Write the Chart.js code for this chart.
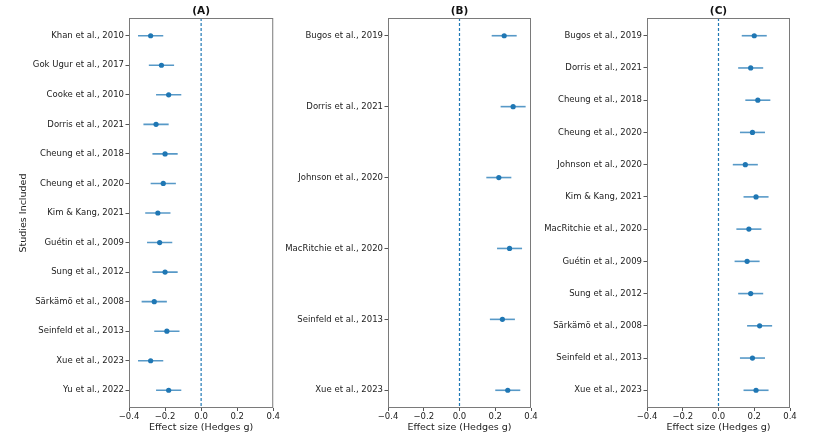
<!DOCTYPE html>
<html lang="en">
<head>
<meta charset="UTF-8">
<title>forest plots</title>
<script src="https://cdn.jsdelivr.net/npm/chart.js@4.4.1/dist/chart.umd.min.js"></script>
<style>
    body { margin: 0; background: #fff; }
    .panel { position: absolute; top: 0; height: 446px; }
</style>
</head>
<body>
<div class="panel" style="left:0;width:281px"><canvas id="chartA"></canvas></div>
<div class="panel" style="left:278px;width:262px"><canvas id="chartB"></canvas></div>
<div class="panel" style="left:540px;width:276px"><canvas id="chartC"></canvas></div>

<script>
// panel A
const studiesA = ['Khan et al., 2010', 'Gok Ugur et al., 2017', 'Cooke et al., 2010', 'Dorris et al., 2021',
    'Cheung et al., 2018', 'Cheung et al., 2020', 'Kim & Kang, 2021', 'Guétin et al., 2009', 'Sung et al., 2012',
    'Särkämö et al., 2008', 'Seinfeld et al., 2013', 'Xue et al., 2023', 'Yu et al., 2022'];
const effectA = [-0.28, -0.22, -0.18, -0.25, -0.20, -0.21, -0.24, -0.23, -0.20, -0.26, -0.19, -0.28, -0.18];
const lowA    = [-0.35, -0.29, -0.25, -0.32, -0.27, -0.28, -0.31, -0.30, -0.27, -0.33, -0.26, -0.35, -0.25];
const highA   = [-0.21, -0.15, -0.11, -0.18, -0.13, -0.14, -0.17, -0.16, -0.13, -0.19, -0.12, -0.21, -0.11];

// panel B
const studiesB = ['Bugos et al., 2019', 'Dorris et al., 2021', 'Johnson et al., 2020',
    'MacRitchie et al., 2020', 'Seinfeld et al., 2013', 'Xue et al., 2023'];
const effectB = [0.25, 0.30, 0.22, 0.28, 0.24, 0.27];
const lowB    = [0.18, 0.23, 0.15, 0.21, 0.17, 0.20];
const highB   = [0.32, 0.37, 0.29, 0.35, 0.31, 0.34];

// panel C
const studiesC = ['Bugos et al., 2019', 'Dorris et al., 2021', 'Cheung et al., 2018', 'Cheung et al., 2020',
    'Johnson et al., 2020', 'Kim & Kang, 2021', 'MacRitchie et al., 2020', 'Guétin et al., 2009',
    'Sung et al., 2012', 'Särkämö et al., 2008', 'Seinfeld et al., 2013', 'Xue et al., 2023'];
const effectC = [0.20, 0.18, 0.22, 0.19, 0.15, 0.21, 0.17, 0.16, 0.18, 0.23, 0.19, 0.21];
const lowC    = [0.13, 0.11, 0.15, 0.12, 0.08, 0.14, 0.10, 0.09, 0.11, 0.16, 0.12, 0.14];
const highC   = [0.27, 0.25, 0.29, 0.26, 0.22, 0.28, 0.24, 0.23, 0.25, 0.30, 0.26, 0.28];

const xTicks = [-0.4, -0.2, 0.0, 0.2, 0.4];

const FONT = 'DejaVu Sans';
const BLUE = '#1f77b4';

// cadre + titre du panneau
const framePlugin = {
    id: 'frame',
    afterDraw(chart, args, opts) {
        const a = chart.chartArea;
        const c = chart.ctx;
        c.save();
        c.strokeStyle = '#7a7a7a';
        c.lineWidth = 1;
        c.strokeRect(a.left + 0.5, a.top + 0.5, a.right - a.left - 1, a.bottom - a.top - 1);
        c.fillStyle = '#111';
        c.font = 'bold 10.5px ' + FONT;
        c.textAlign = 'center';
        c.textBaseline = 'middle';
        c.fillText(opts.text, (a.left + a.right) / 2, a.top - 7);
        c.restore();
    }
};

function makeForest(id, title, studies, effect, low, high, yWidth, padRight, yTitle) {
    const n = studies.length;
    const margin = 0.05 * (n - 1);
    const datasets = [];

    datasets.push({
        data: effect.map((v, i) => ({ x: v, y: i })),
        pointRadius: 2.6,
        pointBackgroundColor: BLUE,
        pointBorderWidth: 0,
        order: 0
    });
    studies.forEach((s, i) => {
        datasets.push({
            data: [{ x: low[i], y: i }, { x: high[i], y: i }],
            showLine: true,
            borderColor: 'rgba(31,119,180,0.75)',
            borderWidth: 1.6,
            pointRadius: 0,
            order: 1
        });
    });
    datasets.push({
        data: [{ x: 0, y: -margin }, { x: 0, y: n - 1 + margin }],
        showLine: true,
        borderColor: BLUE,
        borderWidth: 1.2,
        borderDash: [3, 2],
        pointRadius: 0,
        order: 2
    });

    return new Chart(document.getElementById(id), {
        type: 'scatter',
        data: { datasets: datasets },
        options: {
            responsive: true,
            maintainAspectRatio: false,
            animation: false,
            layout: { padding: { top: 18, right: padRight, bottom: 9, left: 0 } },
            plugins: {
                legend: { display: false },
                tooltip: { enabled: false },
                frame: { text: title }
            },
            scales: {
                x: {
                    type: 'linear',
                    min: -0.4,
                    max: 0.4,
                    afterBuildTicks: (scale) => { scale.ticks = xTicks.map(v => ({ value: v })); },
                    afterFit: (scale) => { scale.height = 29; },
                    grid: { drawOnChartArea: false, drawTicks: true, tickLength: 3, tickColor: '#555' },
                    border: { display: false },
                    ticks: {
                        padding: 1,
                        color: '#222',
                        font: { family: FONT, size: 8.5 },
                        maxRotation: 0,
                        callback: (v) => (v < -0.001 ? '\u2212' : '') + Math.abs(v).toFixed(1)
                    },
                    title: {
                        display: true,
                        text: 'Effect size (Hedges g)',
                        color: '#222',
                        font: { family: FONT, size: 9.5 },
                        padding: { top: 0, bottom: 4 }
                    }
                },
                y: {
                    type: 'linear',
                    reverse: true,
                    min: -margin,
                    max: n - 1 + margin,
                    afterBuildTicks: (scale) => { scale.ticks = studies.map((s, i) => ({ value: i })); },
                    afterFit: (scale) => { scale.width = yWidth; },
                    grid: { drawOnChartArea: false, drawTicks: true, tickLength: 3.5, tickColor: '#555' },
                    border: { display: false },
                    ticks: {
                        autoSkip: false,
                        padding: 1.5,
                        color: '#222',
                        font: { family: FONT, size: 8.5 },
                        callback: (v) => studies[Math.round(v)]
                    },
                    title: {
                        display: !!yTitle,
                        text: yTitle || '',
                        color: '#222',
                        font: { family: FONT, size: 9.5 },
                        padding: { top: 18, bottom: 0 }
                    }
                }
            }
        },
        plugins: [framePlugin]
    });
}

makeForest('chartA', '(A)', studiesA, effectA, lowA, highA, 129, 6, 'Studies Included');
makeForest('chartB', '(B)', studiesB, effectB, lowB, highB, 110, 9, null);
makeForest('chartC', '(C)', studiesC, effectC, lowC, highC, 107, 26, null);
</script>
</body>
</html>
